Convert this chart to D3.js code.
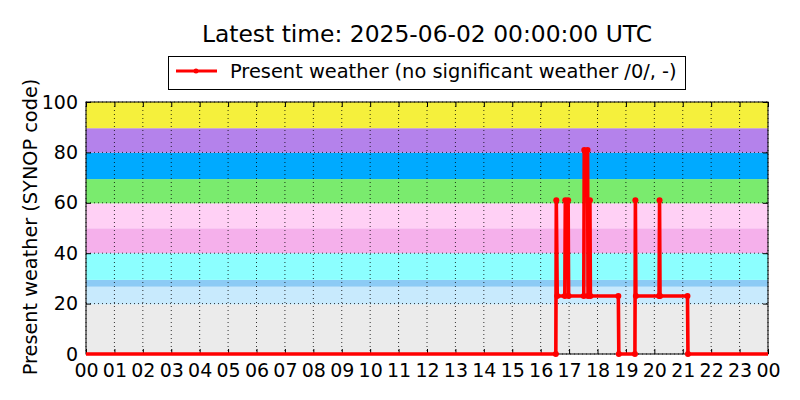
<!DOCTYPE html>
<html><head><meta charset="utf-8">
<script src="https://cdn.jsdelivr.net/npm/d3@7"></script>
<style>
body{margin:0;background:#fff;}
text{font-family:"DejaVu Sans",sans-serif;fill:#000;}
</style></head>
<body><svg id="chart" width="800" height="400"></svg>
<script>
// ---- data ----
const dayStart = "2025-06-01T00:00:00Z";
const dayEnd = "2025-06-02T00:00:00Z";
const obsTimes = ["00:00","16:32","16:33","16:35","16:51","16:52","16:58","16:59","17:31","17:32","17:39","17:40","17:44","17:45","18:44","18:45","19:19","19:20","19:21","20:10","20:11","20:12","21:10","21:11","24:00"];
const obsCodes = [0,0,61,23,23,61,61,23,23,81,81,23,61,23,23,0,0,61,23,23,61,23,23,0,0];
const bandLow  = [0,19.7,26.7,29.4,40,49.9,59.8,69.4,79.9,89.6];
const bandHigh = [19.7,26.7,29.4,40,49.9,59.8,69.4,79.9,89.6,100];
const bandColors = ["#ebebeb","#c8eafd","#8ccbf5","#8cffff","#f5b0eb","#ffd0f5","#7aeb6e","#00aaff","#b482eb","#f5f03c"];
const yTicks = [0,20,40,60,80,100];
const titleText = "Latest time: 2025-06-02 00:00:00 UTC";
const legendText = "Present weather (no significant weather /0/, -)";
const yLabel = "Present weather (SYNOP code)";

// ---- layout ----
const W=800,H=400, m={l:86,r:32,t:102,b:46};
const svg=d3.select("#chart");
const x=d3.scaleUtc().domain([new Date(dayStart),new Date(dayEnd)]).range([m.l,W-m.r]);
const y=d3.scaleLinear().domain([0,100]).range([H-m.b,m.t]);
const parseT=s=>{const [h,mm]=s.split(":").map(Number);return new Date(Date.parse(dayStart)+(h*60+mm)*60000);};
const data=obsTimes.map((t,i)=>({t:parseT(t),v:obsCodes[i]}));

// bands
svg.append("g").selectAll("rect").data(bandLow).join("rect")
 .attr("x",m.l).attr("width",W-m.r-m.l)
 .attr("y",(d,i)=>y(bandHigh[i])).attr("height",(d,i)=>y(d)-y(bandHigh[i]))
 .attr("fill",(d,i)=>bandColors[i]);

// grid
const hours=x.ticks(d3.utcHour.every(1));
const grid=svg.append("g").attr("stroke","#000").attr("stroke-width",0.8).attr("stroke-dasharray","1,3");
grid.selectAll("line.v").data(hours).join("line").attr("class","v")
 .attr("x1",d=>x(d)).attr("x2",d=>x(d)).attr("y1",m.t).attr("y2",H-m.b);
grid.selectAll("line.h").data(yTicks).join("line").attr("class","h")
 .attr("x1",m.l).attr("x2",W-m.r).attr("y1",d=>y(d)).attr("y2",d=>y(d));

// axes
const xAxis=d3.axisBottom(x).tickValues(hours).tickFormat(d3.utcFormat("%H")).tickSizeInner(-5).tickSizeOuter(0).tickPadding(10);
const gx=svg.append("g").attr("transform",`translate(0,${H-m.b})`).call(xAxis);
gx.select(".domain").remove();
gx.selectAll("text").attr("font-size",19).style("font-family","DejaVu Sans");
const xTop=d3.axisTop(x).tickValues(hours).tickFormat("").tickSizeInner(-5).tickSizeOuter(0);
const gxt=svg.append("g").attr("transform",`translate(0,${m.t})`).call(xTop);
gxt.select(".domain").remove();
const yAxis=d3.axisLeft(y).tickValues(yTicks).tickSizeInner(-5).tickSizeOuter(0).tickPadding(8);
const gy=svg.append("g").attr("transform",`translate(${m.l},0)`).call(yAxis);
gy.select(".domain").remove();
gy.selectAll("text").attr("font-size",19).style("font-family","DejaVu Sans");
const yRight=d3.axisRight(y).tickValues(yTicks).tickFormat("").tickSizeInner(-5).tickSizeOuter(0);
const gyr=svg.append("g").attr("transform",`translate(${W-m.r},0)`).call(yRight);
gyr.select(".domain").remove();

// frame
svg.append("rect").attr("x",m.l).attr("y",m.t).attr("width",W-m.r-m.l).attr("height",H-m.b-m.t)
 .attr("fill","none").attr("stroke","#000").attr("stroke-width",1);

// line
const line=d3.line().x(d=>x(d.t)).y(d=>y(d.v));
svg.append("path").datum(data).attr("d",line).attr("fill","none").attr("stroke","#ff0000")
 .attr("stroke-width",3.6).attr("stroke-linejoin","round");
svg.append("g").selectAll("circle").data(data.slice(1,-1)).join("circle")
 .attr("cx",d=>x(d.t)).attr("cy",d=>y(d.v)).attr("r",3).attr("fill","#ff0000");

// title
svg.append("text").attr("x",(m.l+W-m.r)/2).attr("y",42).attr("text-anchor","middle")
 .attr("font-size",23.4).text(titleText);

// legend
const lg=svg.append("g");
lg.append("rect").attr("x",168.5).attr("y",56.5).attr("width",517).attr("height",33)
 .attr("fill","#fff").attr("stroke","#000").attr("stroke-width",1);
lg.append("line").attr("x1",176).attr("x2",217).attr("y1",71).attr("y2",71).attr("stroke","#ff0000").attr("stroke-width",3);
lg.append("circle").attr("cx",196).attr("cy",71).attr("r",2.5).attr("fill","#ff0000");
lg.append("text").attr("x",230).attr("y",78).attr("font-size",19.4).text(legendText);

// y label
svg.append("text").attr("transform","translate(37,227) rotate(-90)").attr("text-anchor","middle")
 .attr("font-size",19.3).text(yLabel);
</script></body></html>
